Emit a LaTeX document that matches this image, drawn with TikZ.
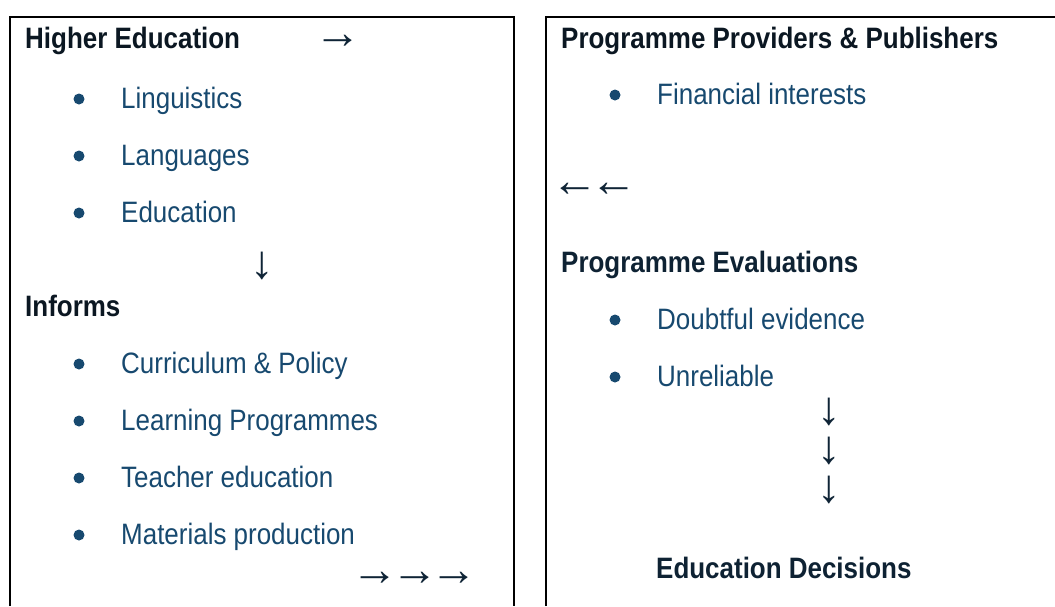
\documentclass[tikz,border=0pt]{standalone}
\usepackage{fontspec}
\setmainfont{Liberation Sans}[FakeStretch=0.88]
\newfontfamily\arrowfont{Liberation Sans}
\definecolor{itemblue}{HTML}{17496F}
\definecolor{headdark}{HTML}{0B1722}
\definecolor{headnavy}{HTML}{0E2233}
\definecolor{arrownavy}{HTML}{0F2436}
\tikzset{
  boxline/.style={line width=2pt, draw=black},
  heading/.style={anchor=base west, inner sep=0pt, text=headdark, font=\fontsize{29.5}{34}\selectfont\bfseries},
  headingb/.style={heading, text=headnavy},
  item/.style={anchor=base west, inner sep=0pt, text=itemblue, font=\fontsize{29.5}{34}\selectfont},
  dot/.style={circle, fill=itemblue, inner sep=0pt, minimum size=11pt},
  arrowtxt/.style={anchor=center, inner sep=0pt, text=arrownavy, font=\arrowfont\fontsize{47}{52}\selectfont}
}
\begin{document}
\begin{tikzpicture}[x=1pt,y=-1pt]
\useasboundingbox (0,0) rectangle (1055,606);
% boxes
\draw[boxline] (9.5,606) -- (9.5,16.5) -- (513.5,16.5) -- (513.5,606);
\draw[boxline] (545.5,606) -- (545.5,16.5) -- (1055,16.5);
% left box
\node[heading] (he) at (25,48) {Higher Education};
\node[arrowtxt] (a1) at (337.5,42) {→};
\node[dot] (d1) at (79,99) {};
\node[item] (ling) at (121,108) {Linguistics};
\node[dot] (d2) at (79,156) {};
\node[item] (lang) at (121,165) {Languages};
\node[dot] (d3) at (79,213) {};
\node[item] (educ) at (121,222) {Education};
\node[arrowtxt] (a2) at (262,266) {↓};
\node[heading] (inf) at (25,316) {Informs};
\node[dot] (d4) at (79,364) {};
\node[item] (curr) at (121,373) {Curriculum \& Policy};
\node[dot] (d5) at (79,421) {};
\node[item] (lear) at (121,430) {Learning Programmes};
\node[dot] (d6) at (79,478) {};
\node[item] (teac) at (121,487) {Teacher education};
\node[dot] (d7) at (79,535) {};
\node[item] (mate) at (121,544) {Materials production};
\node[arrowtxt] (a3) at (375,579) {→};
\node[arrowtxt] (a4) at (415,579) {→};
\node[arrowtxt] (a5) at (454,579) {→};
% right box
\node[heading] (ppp) at (561,48) {Programme Providers \& Publishers};
\node[dot] (d8) at (615,95) {};
\node[item] (fin) at (657,104) {Financial interests};
\node[arrowtxt] (a6) at (575,190) {←};
\node[arrowtxt] (a7) at (614,190) {←};
\node[headingb] (pe) at (561,272) {Programme Evaluations};
\node[dot] (d9) at (615,320) {};
\node[item] (doub) at (657,329) {Doubtful evidence};
\node[dot] (d10) at (615,377) {};
\node[item] (unre) at (657,386) {Unreliable};
\node[arrowtxt] (a8) at (829,412) {↓};
\node[arrowtxt] (a9) at (829,451) {↓};
\node[arrowtxt] (a10) at (829,490) {↓};
\node[headingb] (ed) at (656,578) {Education Decisions};
\end{tikzpicture}
\end{document}
